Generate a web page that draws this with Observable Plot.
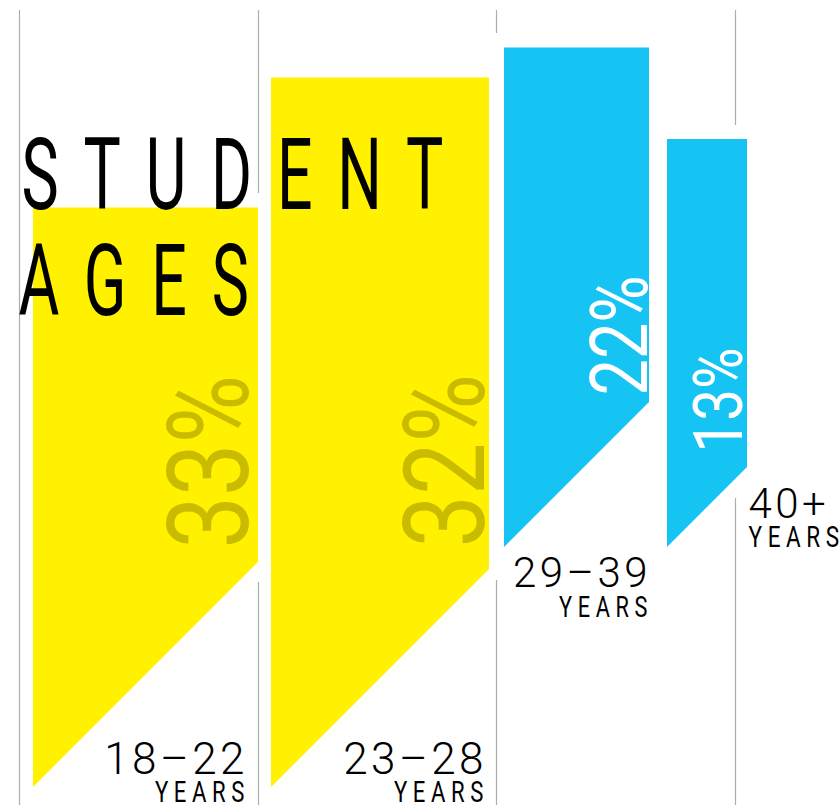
<!DOCTYPE html>
<html>
<head>
<meta charset="utf-8">
<script src="https://cdn.jsdelivr.net/npm/d3@7"></script>
<script src="https://cdn.jsdelivr.net/npm/@observablehq/plot@0.6"></script>
<style>
  html, body { margin: 0; padding: 0; background: #ffffff; }
  #chart svg { display: block; background: #ffffff; }
</style>
</head>
<body>
<div id="chart"></div>
<script>
// ---------- data ----------
const categories = ["18–22", "23–28", "29–39", "40+"];
const unitLabel = "YEARS";
const shares = [33, 32, 22, 13];
const cohorts = ["under 29", "under 29", "29 and over", "29 and over"];
const titleLines = ["STUDENT", "AGES"];

// ---------- layout (chart units, 1 unit = 1 px) ----------
const barLeft  = [33, 271, 504, 667];
const barRight = [258, 489, 649, 747];
const barTop   = [207.5, 77.5, 47.5, 139];
const barFoot  = [787, 787, 547, 547];          // bottom of the left edge; bottom cut at 45°
const pctX     = [167, 403, 590, 692];          // glyph-top side of the rotated percent
const pctY     = [548, 547, 395, 452];          // start of rotated percent text
const pctSize  = [114, 114, 79, 69];
const labelX   = [244, 483, 647, 748];
const labelAlign = ["end", "end", "end", "start"];
const labelTop = [742, 742, 557, 488];
const unitTop  = [781, 781, 596, 525];
const labelSize = [44, 44, 42, 42];
const unitSize  = [29.5, 29.5, 29, 30];
const gridX = [19, 258, 496, 735];
const gridSpans = [[[10, 805]], [[10, 193], [582, 805]], [[10, 33], [580, 805]], [[10, 125], [498, 805]]];
const titleX = [21, 18];
const titleTop = [137, 243];

// ---------- derived tables ----------
const bars = categories.flatMap((c, i) => [
  {category: c, cohort: cohorts[i], x: barLeft[i], top: barTop[i], bottom: barFoot[i]},
  {category: c, cohort: cohorts[i], x: barRight[i], top: barTop[i], bottom: barFoot[i] - (barRight[i] - barLeft[i])}
]);
const grid = gridX.flatMap((x, i) => gridSpans[i].map(([a, b]) => ({x, y1: a, y2: b})));
const pct = categories.map((c, i) => ({
  text: `${shares[i]}%`, x: pctX[i], y: pctY[i], size: pctSize[i],
  color: cohorts[i] === "under 29" ? "#c9bb00" : "#ffffff"
}));
const labels = categories.map((c, i) => ({
  text: c, unit: unitLabel, align: labelAlign[i], x: labelX[i],
  top: labelTop[i], utop: unitTop[i], size: labelSize[i], usize: unitSize[i]
}));
const titles = titleLines.map((t, i) => ({text: t, x: titleX[i], y: titleTop[i]}));

const FONT = "Roboto, 'Open Sans', 'DejaVu Sans', sans-serif";

const chart = Plot.plot({
  width: 840,
  height: 805,
  margin: 0,
  x: {domain: [0, 840], range: [0, 840], axis: null},
  y: {domain: [0, 805], range: [0, 805], axis: null},
  color: {domain: ["under 29", "29 and over"], range: ["#fff100", "#15c4f3"]},
  style: {background: "#ffffff"},
  marks: [
    Plot.ruleX(grid, {x: "x", y1: "y1", y2: "y2", stroke: "#adadad", strokeWidth: 1.2}),
    Plot.areaY(bars, {x: "x", y1: "top", y2: "bottom", z: "category", fill: "cohort", curve: "linear"}),
    Plot.text(pct, {
      x: "x", y: "y", text: "text", fill: "color", fontSize: "size", rotate: -90,
      textAnchor: "start", lineAnchor: "top", fontFamily: FONT, fontWeight: 400
    }),
    Plot.text(labels.filter(d => d.align === "end"), {
      x: "x", y: "top", text: "text", fontSize: "size", textAnchor: "end", lineAnchor: "top",
      fill: "#000", fontFamily: FONT, fontWeight: 300
    }),
    Plot.text(labels.filter(d => d.align === "start"), {
      x: "x", y: "top", text: "text", fontSize: "size", textAnchor: "start", lineAnchor: "top",
      fill: "#000", fontFamily: FONT, fontWeight: 300
    }),
    Plot.text(labels.filter(d => d.align === "end"), {
      x: "x", y: "utop", text: "unit", fontSize: "usize", textAnchor: "end", lineAnchor: "top",
      fill: "#000", fontFamily: FONT, fontWeight: 400
    }),
    Plot.text(labels.filter(d => d.align === "start"), {
      x: "x", y: "utop", text: "unit", fontSize: "usize", textAnchor: "start", lineAnchor: "top",
      fill: "#000", fontFamily: FONT, fontWeight: 400
    }),
    Plot.text(titles, {
      x: "x", y: "y", text: "text", fontSize: 101, textAnchor: "start", lineAnchor: "top",
      fill: "#000", fontFamily: FONT, fontWeight: 400
    })
  ]
});

// condense glyphs horizontally and add tracking between letters, matched by text content
function styleFor(str) {
  if (titleLines.includes(str)) return {sx: 0.62, ls: 40};
  if (str.endsWith("%")) return {sx: 0.82, ls: 0};
  if (str === unitLabel) return {sx: 0.75, ls: 7.5};
  if (categories.includes(str)) return {sx: 1, ls: 3.5};
  return null;
}
d3.select(chart).selectAll("text").each(function () {
  const t = d3.select(this);
  const str = t.text().trim();
  const s = styleFor(str);
  if (!s) return;
  const tr = t.attr("transform");
  if (tr) {
    t.attr("transform", tr + ` scale(${s.sx},1)`);
  } else {
    const x = +t.attr("x") || 0, y = +t.attr("y") || 0;
    t.attr("x", null).attr("y", null).attr("transform", `translate(${x},${y}) scale(${s.sx},1)`);
  }
  if (s.ls) {
    const n = Array.from(str).length;
    t.attr("dx", Array.from({length: n}, (_, k) => (k === 0 ? 0 : s.ls)).join(" "));
  }
});

document.getElementById("chart").appendChild(chart);
</script>
</body>
</html>
